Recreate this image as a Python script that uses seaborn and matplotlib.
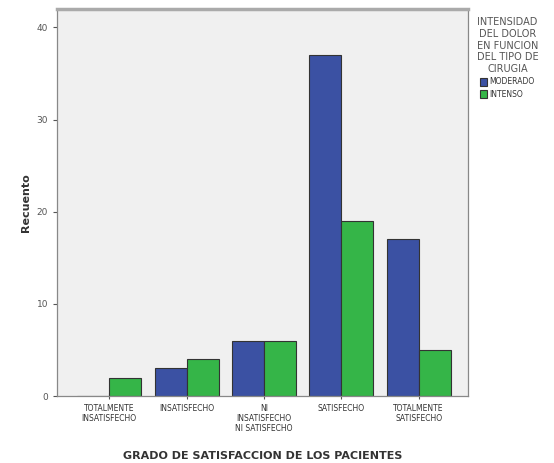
import matplotlib
matplotlib.use("Agg")
import matplotlib.pyplot as plt
import seaborn as sns
import pandas as pd

categorias = ["TOTALMENTE\nINSATISFECHO", "INSATISFECHO", "NI\nINSATISFECHO\nNI SATISFECHO",
              "SATISFECHO", "TOTALMENTE\nSATISFECHO"]
moderado = [0, 3, 6, 37, 17]
intenso = [2, 4, 6, 19, 5]
series = ["MODERADO", "INTENSO"]
colores = ["#3b51a3", "#35b548"]

df = pd.DataFrame({
    "grado": categorias * 2,
    "intensidad": [series[0]] * 5 + [series[1]] * 5,
    "recuento": moderado + intenso,
})

sns.set_style("white")
plt.rcParams["font.family"] = ["DejaVu Sans"]

fig = plt.figure(figsize=(5.54, 4.63), dpi=100)
ax = fig.add_axes([0.103, 0.1447, 0.742, 0.836])
ax.set_facecolor("#f0f0f0")

sns.barplot(data=df, x="grado", y="recuento", hue="intensidad", order=categorias,
            hue_order=series, palette=colores, width=0.83, edgecolor="#333333",
            linewidth=0.8, saturation=1, ax=ax, legend=True)

ax.set_ylim(0, 42)
ax.set_xlim(-0.675, 4.64)
ax.set_yticks([0, 10, 20, 30, 40])
ax.tick_params(axis="y", labelsize=6.5, colors="#555555", length=3, width=0.8, direction="out", left=True)
ax.tick_params(axis="x", labelsize=5.5, colors="#555555", length=4, width=0.8, direction="inout", bottom=True)
for lbl in ax.get_xticklabels():
    lbl.set_color("#333333")
ax.set_ylabel("Recuento", fontsize=8, fontweight="bold", color="#333333")
ax.set_xlabel("GRADO DE SATISFACCION DE LOS PACIENTES", fontsize=8, fontweight="bold",
              color="#333333", labelpad=13)

for side, sp in ax.spines.items():
    sp.set_visible(True)
    sp.set_color("#888888")
    sp.set_linewidth(0.9)
ax.spines["top"].set_linewidth(2.5)
ax.spines["top"].set_color("#aaaaaa")

leg = ax.legend(title="INTENSIDAD\nDEL DOLOR\nEN FUNCION\nDEL TIPO DE\nCIRUGIA",
                loc="upper left", bbox_to_anchor=(1.0, 1.0), frameon=False,
                fontsize=5.5, title_fontsize=7, handlelength=1.0, handleheight=1.2,
                handletextpad=0.3, labelspacing=0.45, borderaxespad=0.0, borderpad=1.1)
leg.get_title().set_multialignment("center")
leg.get_title().set_color("#555555")
for t in leg.get_texts():
    t.set_color("#333333")

fig.savefig("out.png", dpi=100)
